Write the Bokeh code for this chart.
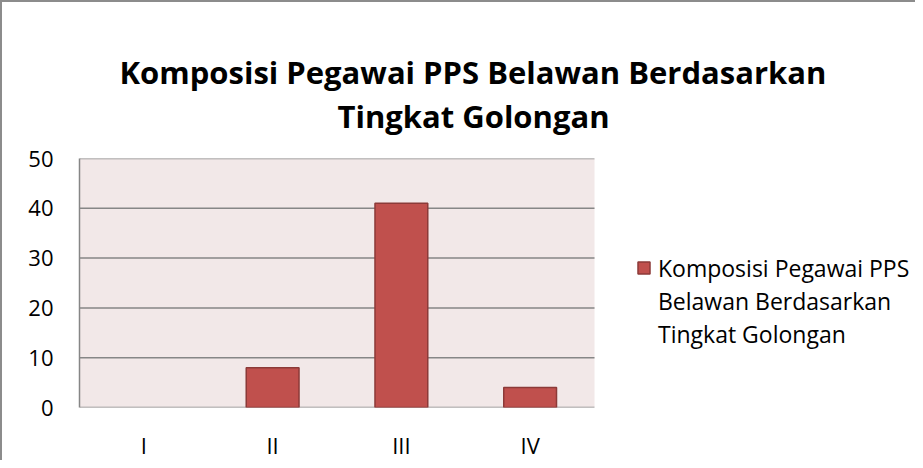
from bokeh.plotting import figure
from bokeh.models import (Legend, LegendItem, Range1d, FixedTicker, Title,
                          ColumnDataSource, BoxAnnotation)
from bokeh.embed import file_html
from bokeh.resources import INLINE

categories = ["I", "II", "III", "IV"]
values = [0, 8, 41, 4]
y_ticks = [0, 10, 20, 30, 40, 50]
title_line1 = "Komposisi Pegawai PPS Belawan Berdasarkan"
title_line2 = "Tingkat Golongan"
series_lines = ["Komposisi Pegawai PPS", "Belawan Berdasarkan", "Tingkat Golongan"]

FONT = "Open Sans"
BAR = "#C0504D"
BAR_EDGE = "#8C3A38"
GRID = "#868686"
PLOT_BG = "#F2E8E8"

# category slots on a numeric axis: slot i spans [i, i+1], label at its centre
n = len(categories)
x_pos = [i + 0.5 for i in range(n)]
src = ColumnDataSource(dict(x=x_pos, val=values,
                            edge=[BAR_EDGE if v > 0 else None for v in values]))

LEFT, FRAME_W_CATS = 77, 515           # plot-area geometry of the category region
W, H = 915, 460
frame_w = W - LEFT
x_end = n * frame_w / FRAME_W_CATS     # frame also hosts the legend area on the right

p = figure(width=W, height=H, x_range=Range1d(0, x_end), y_range=Range1d(0, 50),
           output_backend="svg", toolbar_location=None,
           min_border_left=LEFT, min_border_right=0, min_border_top=156, min_border_bottom=52)
p.styles = {"border-top": "2px solid #8c8c8c", "border-left": "2px solid #8c8c8c"}

p.background_fill_color = "white"
p.border_fill_color = "white"
p.outline_line_color = None

# plot area background (category region only)
p.add_layout(BoxAnnotation(left=0, right=n, bottom=0, top=50, fill_color=PLOT_BG,
                           fill_alpha=1, line_color=None, level="underlay"))

# horizontal gridlines limited to the plot area
p.segment(x0=[0] * len(y_ticks), x1=[n] * len(y_ticks), y0=y_ticks, y1=y_ticks,
          line_color=GRID, line_width=1.5)

r = p.vbar(x="x", top="val", width=0.41, fill_color=BAR, line_color="edge", line_width=1.5, source=src)
# invisible companion renderer so the wrapped series name continues on extra legend rows
r_cont = p.scatter(x=[], y=[], size=0, fill_alpha=0, line_alpha=0)

p.xgrid.grid_line_color = None
p.ygrid.grid_line_color = None

p.yaxis.ticker = FixedTicker(ticks=y_ticks)
p.yaxis.axis_line_color = GRID
p.yaxis.axis_line_width = 1.5
p.yaxis.major_tick_line_color = None
p.yaxis.minor_tick_line_color = None
p.yaxis.major_label_text_font = FONT
p.yaxis.major_label_text_font_size = "22px"
p.yaxis.major_label_text_color = "black"
p.yaxis.major_label_standoff = 20

p.xaxis.ticker = FixedTicker(ticks=x_pos)
p.xaxis.major_label_overrides = {x: c for x, c in zip(x_pos, categories)}
p.xaxis.axis_line_color = None
p.xaxis.major_tick_line_color = None
p.xaxis.minor_tick_line_color = None
p.xaxis.major_label_text_font = FONT
p.xaxis.major_label_text_font_size = "22px"
p.xaxis.major_label_text_color = "black"
p.xaxis.major_label_standoff = 16

spacer = Title(text=" ", text_font_size="15px", standoff=0, text_font=FONT)
t2 = Title(text=title_line2, align="left", offset=258, standoff=0,
           text_font=FONT, text_font_style="bold", text_font_size="31px", text_color="black")
t1 = Title(text=title_line1, align="left", offset=40, standoff=0,
           text_font=FONT, text_font_style="bold", text_font_size="31px", text_color="black")
p.add_layout(spacer, "above")
p.add_layout(t2, "above")
p.add_layout(t1, "above")

items = [LegendItem(label=series_lines[0], renderers=[r], index=1)]
items += [LegendItem(label=s, renderers=[r_cont]) for s in series_lines[1:]]
legend = Legend(items=items, location=(557, 57),
                label_text_font=FONT, label_text_font_size="23px", label_text_color="black",
                glyph_width=15, glyph_height=15, label_height=33, padding=0, margin=0, spacing=0,
                border_line_color=None, background_fill_alpha=0, label_standoff=7)
p.add_layout(legend)

open("out.html", "w").write(file_html(p, INLINE))
